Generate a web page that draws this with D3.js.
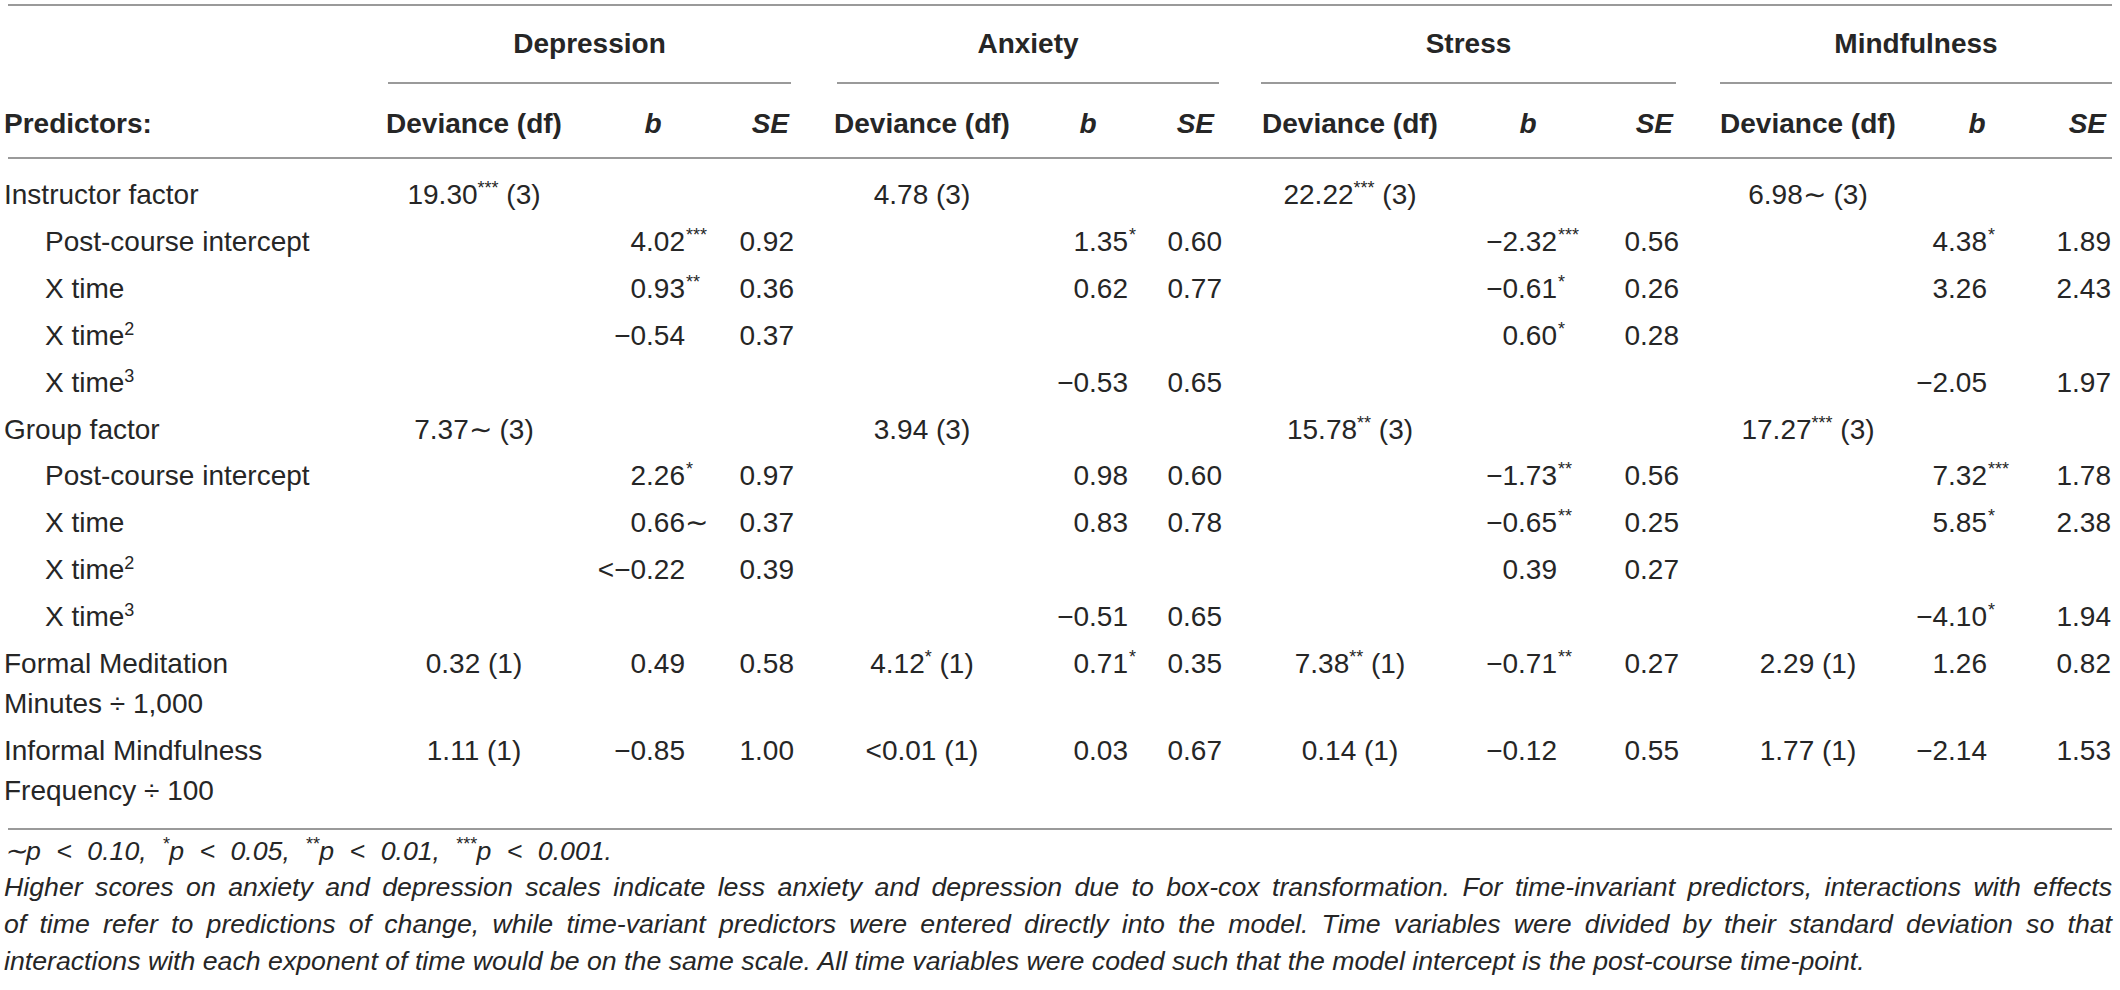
<!DOCTYPE html>
<html>
<head>
<meta charset="utf-8">
<title>Deviance and coefficients table</title>
<script src="https://cdn.jsdelivr.net/npm/d3@7"></script>
<style>
  body { margin: 0; background: #fff; }
  svg { display: block; font-family: "Liberation Sans", Arial, sans-serif; }
</style>
</head>
<body>
<script>
// ---- data ----
const outcomes = ["Depression", "Anxiety", "Stress", "Mindfulness"];
const subHeads = ["Deviance (df)", "b", "SE"];
const predictorHead = "Predictors:";

// "^" marks a superscript, "\n" a second line
const predictors = [
  "Instructor factor", "Post-course intercept", "X time", "X time^2", "X time^3",
  "Group factor", "Post-course intercept", "X time", "X time^2", "X time^3",
  "Formal Meditation\nMinutes ÷ 1,000", "Informal Mindfulness\nFrequency ÷ 100"
];
const indentLevel = [0, 1, 1, 1, 1, 0, 1, 1, 1, 1, 0, 0];

const devDepression = ["19.30*** (3)", null, null, null, null, "7.37∼ (3)", null, null, null, null, "0.32 (1)", "1.11 (1)"];
const bDepression   = [null, "4.02***", "0.93**", "−0.54", null, null, "2.26*", "0.66∼", "<−0.22", null, "0.49", "−0.85"];
const seDepression  = [null, "0.92", "0.36", "0.37", null, null, "0.97", "0.37", "0.39", null, "0.58", "1.00"];

const devAnxiety = ["4.78 (3)", null, null, null, null, "3.94 (3)", null, null, null, null, "4.12* (1)", "<0.01 (1)"];
const bAnxiety   = [null, "1.35*", "0.62", null, "−0.53", null, "0.98", "0.83", null, "−0.51", "0.71*", "0.03"];
const seAnxiety  = [null, "0.60", "0.77", null, "0.65", null, "0.60", "0.78", null, "0.65", "0.35", "0.67"];

const devStress = ["22.22*** (3)", null, null, null, null, "15.78** (3)", null, null, null, null, "7.38** (1)", "0.14 (1)"];
const bStress   = [null, "−2.32***", "−0.61*", "0.60*", null, null, "−1.73**", "−0.65**", "0.39", null, "−0.71**", "−0.12"];
const seStress  = [null, "0.56", "0.26", "0.28", null, null, "0.56", "0.25", "0.27", null, "0.27", "0.55"];

const devMindfulness = ["6.98∼ (3)", null, null, null, null, "17.27*** (3)", null, null, null, null, "2.29 (1)", "1.77 (1)"];
const bMindfulness   = [null, "4.38*", "3.26", null, "−2.05", null, "7.32***", "5.85*", null, "−4.10*", "1.26", "−2.14"];
const seMindfulness  = [null, "1.89", "2.43", null, "1.97", null, "1.78", "2.38", null, "1.94", "0.82", "1.53"];

const footSig = "∼p < 0.10, *p < 0.05, **p < 0.01, ***p < 0.001.";
const noteLines = [
  "Higher scores on anxiety and depression scales indicate less anxiety and depression due to box-cox transformation. For time-invariant predictors, interactions with effects",
  "of time refer to predictions of change, while time-variant predictors were entered directly into the model. Time variables were divided by their standard deviation so that",
  "interactions with each exponent of time would be on the same scale. All time variables were coded such that the model intercept is the post-course time-point."
];

// table built from the arrays above
const devCols = [devDepression, devAnxiety, devStress, devMindfulness];
const bCols = [bDepression, bAnxiety, bStress, bMindfulness];
const seCols = [seDepression, seAnxiety, seStress, seMindfulness];

// ---- layout ----
const w = 2120, h = 990;
const fs = 28, noteFs = 26.7, supFs = 18, supRaise = 10;
const ink = "#262626", ruleColor = "#9a9a9a";
const xLeft = 8, xRight = 2112;

const groupStart = d3.scaleOrdinal().domain(outcomes).range([388, 837, 1261, 1720]);
const groupEnd   = d3.scaleOrdinal().domain(outcomes).range([791, 1219, 1676, 2112]);
const devX  = d3.scaleOrdinal().domain(outcomes).range([474, 922, 1350, 1808]);
const bX    = d3.scaleOrdinal().domain(outcomes).range([685, 1128, 1557, 1987]);
const seX   = d3.scaleOrdinal().domain(outcomes).range([794, 1222, 1679, 2111]);
const bHeadX  = d3.scaleOrdinal().domain(outcomes).range([653, 1088, 1528, 1977]);
const seHeadX = d3.scaleOrdinal().domain(outcomes).range([789, 1214, 1673, 2106]);
const indentX = d3.scaleOrdinal().domain([0, 1]).range([4, 45]);

// row baselines: one-line rows step 46.9, extra lines add 40
const rowStep = 46.9, lineStep = 40;
const rowY = [];
let yy = 204;
predictors.forEach(function (p) {
  rowY.push(yy);
  yy += rowStep + (p.split("\n").length - 1) * lineStep;
});
const yRow = d3.scaleOrdinal().domain(d3.range(predictors.length)).range(rowY);

const svg = d3.select("body").append("svg")
  .attr("width", w)
  .attr("height", h);

// rules
function rule(x1, x2, y) {
  svg.append("line")
    .attr("x1", x1).attr("x2", x2)
    .attr("y1", y).attr("y2", y)
    .attr("stroke", ruleColor)
    .attr("stroke-width", 2.2);
}
rule(xLeft, xRight, 5);
rule(xLeft, xRight, 158);
rule(xLeft, xRight, 829);
outcomes.forEach(function (o) { rule(groupStart(o), groupEnd(o), 83); });

// split "4.02***" into number, mark and "(df)" tail
function splitMark(s) {
  const m = s.match(/^([^*∼(]*?)(\*+|∼)?(\s*\(.*\))?$/);
  return { num: m[1], mark: m[2] || "", tail: m[3] || "" };
}

// group headers
svg.selectAll("text.group")
  .data(outcomes)
  .enter()
  .append("text")
  .attr("class", "group")
  .attr("x", function (d) { return (groupStart(d) + groupEnd(d)) / 2; })
  .attr("y", 53)
  .attr("text-anchor", "middle")
  .attr("font-size", fs)
  .attr("font-weight", "bold")
  .attr("fill", ink)
  .text(function (d) { return d; });

// column headers
svg.append("text")
  .attr("x", 4).attr("y", 133)
  .attr("font-size", fs).attr("font-weight", "bold").attr("fill", ink)
  .text(predictorHead);

outcomes.forEach(function (o) {
  svg.append("text")
    .attr("x", devX(o)).attr("y", 133)
    .attr("text-anchor", "middle")
    .attr("font-size", fs).attr("font-weight", "bold").attr("fill", ink)
    .text(subHeads[0]);
  svg.append("text")
    .attr("x", bHeadX(o)).attr("y", 133)
    .attr("text-anchor", "middle")
    .attr("font-size", fs).attr("font-weight", "bold").attr("font-style", "italic").attr("fill", ink)
    .text(subHeads[1]);
  svg.append("text")
    .attr("x", seHeadX(o)).attr("y", 133)
    .attr("text-anchor", "end")
    .attr("font-size", fs).attr("font-weight", "bold").attr("font-style", "italic").attr("fill", ink)
    .text(subHeads[2]);
});

// predictor labels
predictors.forEach(function (p, i) {
  p.split("\n").forEach(function (line, k) {
    const t = svg.append("text")
      .attr("x", indentX(indentLevel[i]))
      .attr("y", yRow(i) + k * lineStep)
      .attr("font-size", fs)
      .attr("fill", ink);
    const parts = line.split("^");
    t.append("tspan").text(parts[0]);
    if (parts[1]) {
      t.append("tspan").attr("font-size", supFs).attr("dy", -supRaise).text(parts[1]);
    }
  });
});

// cells
outcomes.forEach(function (o, g) {
  devCols[g].forEach(function (v, i) {
    if (!v) return;
    const s = splitMark(v);
    const t = svg.append("text")
      .attr("x", devX(o)).attr("y", yRow(i))
      .attr("text-anchor", "middle")
      .attr("font-size", fs).attr("fill", ink);
    t.append("tspan").text(s.num);
    let raised = false;
    if (s.mark === "∼") {
      t.append("tspan").text(s.mark);
    } else if (s.mark) {
      t.append("tspan").attr("font-size", supFs).attr("dy", -supRaise).text(s.mark);
      raised = true;
    }
    if (s.tail) {
      t.append("tspan").attr("font-size", fs).attr("dy", raised ? supRaise : 0).text(s.tail);
    }
  });

  bCols[g].forEach(function (v, i) {
    if (!v) return;
    const s = splitMark(v);
    svg.append("text")
      .attr("x", bX(o)).attr("y", yRow(i))
      .attr("text-anchor", "end")
      .attr("font-size", fs).attr("fill", ink)
      .text(s.num);
    if (s.mark) {
      const sup = s.mark !== "∼";
      svg.append("text")
        .attr("x", bX(o) + (sup ? 1 : 0)).attr("y", yRow(i) - (sup ? supRaise : 0))
        .attr("font-size", sup ? supFs : fs).attr("fill", ink)
        .text(s.mark);
    }
  });

  seCols[g].forEach(function (v, i) {
    if (!v) return;
    svg.append("text")
      .attr("x", seX(o)).attr("y", yRow(i))
      .attr("text-anchor", "end")
      .attr("font-size", fs).attr("fill", ink)
      .text(v);
  });
});

// footnotes
const foot = svg.append("text")
  .attr("x", 4).attr("y", 860)
  .attr("font-size", noteFs).attr("font-style", "italic").attr("fill", ink);
let footRaised = false;
footSig.split(/(\*+)/).forEach(function (piece) {
  if (piece === "") return;
  if (/^\*+$/.test(piece)) {
    foot.append("tspan").attr("font-size", supFs).attr("dy", -supRaise).text(piece);
    footRaised = true;
  } else {
    foot.append("tspan").attr("font-size", noteFs).attr("dy", footRaised ? supRaise : 0).text(piece);
    footRaised = false;
  }
});
// the reference sets wide spaces around "<"
const footNatural = foot.node().getComputedTextLength();
foot.attr("word-spacing", (612 - 4 - footNatural) / (footSig.split(" ").length - 1));

noteLines.forEach(function (line, k) {
  const t = svg.append("text")
    .attr("x", 4).attr("y", 896 + k * 37)
    .attr("font-size", noteFs).attr("font-style", "italic").attr("fill", ink)
    .text(line);
  // justify all but the last line
  if (k < noteLines.length - 1) {
    const natural = t.node().getComputedTextLength();
    const gaps = line.split(" ").length - 1;
    t.attr("word-spacing", (xRight - 4 - natural) / gaps);
  }
});
</script>
</body>
</html>
